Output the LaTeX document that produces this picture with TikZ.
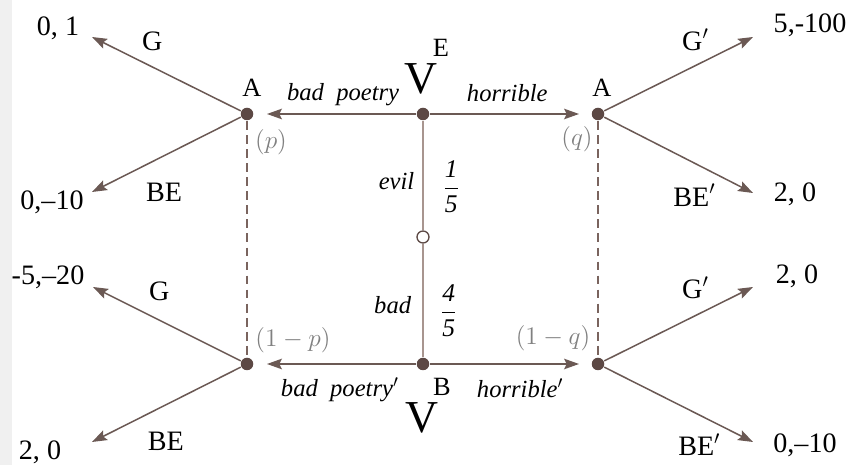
\documentclass[tikz,border=0pt]{standalone}
\usepackage{amsmath}
\usepackage{fontspec}
\setmainfont{Liberation Serif}
\usetikzlibrary{arrows.meta}

\definecolor{branch}{HTML}{6B5954}
\definecolor{dotfill}{HTML}{5C4844}
\definecolor{chanceline}{HTML}{A8958F}
\definecolor{infoset}{HTML}{7A645E}
\definecolor{strip}{HTML}{F0F0F0}

\begin{document}
\begin{tikzpicture}[>={Stealth[length=8.5pt,width=6pt,inset=1.5pt]}, line width=0.85pt,
    dot/.style={circle, fill=dotfill, inner sep=0pt, minimum size=0.25cm},
    opendot/.style={circle, draw=dotfill, fill=white, line width=0.75pt, inner sep=0pt, minimum size=0.24cm},
    pay/.style={font=\fontsize{16}{16}\selectfont},
    act/.style={font=\fontsize{16}{16}\selectfont},
    player/.style={font=\fontsize{15}{15}\selectfont},
    move/.style={font=\fontsize{14}{14}\selectfont\itshape},
    prob/.style={font=\fontsize{14.5}{14.5}\selectfont},
    belief/.style={text=gray, font=\fontsize{15.5}{15.5}\selectfont},
    big/.style={font=\fontsize{26}{26}\selectfont}]

    % background and margins
    \fill[white] (0, 0) rectangle (17, 9.3);
    \fill[strip] (0, 0) rectangle (0.24, 9.3);
    \useasboundingbox (0, 0) rectangle (17, 9.3);

    % decision nodes
    \node[dot] (e) at (8.46, 7.02) {};
    \node[dot] (b) at (8.46, 2.02) {};
    \node[opendot] (c) at (8.46, 4.56) {};
    \node[dot] (a1) at (4.94, 7.02) {};
    \node[dot] (a2) at (4.94, 2.02) {};
    \node[dot] (a3) at (11.96, 7.02) {};
    \node[dot] (a4) at (11.96, 2.02) {};

    % free ends of the branches
    \coordinate (t1) at (1.84, 8.56);
    \coordinate (t2) at (1.84, 5.46);
    \coordinate (t3) at (1.86, 3.56);
    \coordinate (t4) at (1.84, 0.46);
    \coordinate (t5) at (15.06, 8.56);
    \coordinate (t6) at (15.06, 5.44);
    \coordinate (t7) at (15.06, 3.56);
    \coordinate (t8) at (15.06, 0.46);

    % nature
    \draw[chanceline] (e) -- node[pos=0.55, left=1.2pt, move, text=black] (evil) {evil}
        node[pos=0.6, right=7.5pt, prob, text=black] (p15) {$\dfrac{\textit{1}}{\textit{5}}$} (c);
    \draw[chanceline] (c) -- node[pos=0.54, left=3pt, move, text=black] (bad) {bad}
        node[pos=0.59, right=6pt, prob, text=black] (p45) {$\dfrac{\textit{4}}{\textit{5}}$} (b);

    % sender
    \draw[->, branch, shorten >=0.26cm] (e) -- node[pos=0.45, above=1pt, move, text=black] (bp) {bad\enspace poetry} (a1);
    \draw[->, branch, shorten >=0.24cm] (e) -- node[pos=0.48, above=3pt, move, text=black] (hr) {horrible} (a3);
    \draw[->, branch, shorten >=0.26cm] (b) -- node[pos=0.47, below=4pt, move, text=black] (bp2) {bad\enspace poetry$'$} (a2);
    \draw[->, branch, shorten >=0.24cm] (b) -- node[pos=0.56, below=4.8pt, move, text=black] (hr2) {horrible$'$} (a4);

    % receiver
    \draw[->, branch] (a1) -- node[pos=0.594, above=5.5pt, act, text=black] (g1) {G} (t1);
    \draw[->, branch] (a1) -- node[pos=0.516, below=12pt, act, text=black] (be1) {BE} (t2);
    \draw[->, branch] (a2) -- node[pos=0.552, above=7.4pt, act, text=black] (g2) {G} (t3);
    \draw[->, branch] (a2) -- node[pos=0.503, below=12pt, act, text=black] (be2) {BE} (t4);
    \draw[->, branch] (a3) -- node[pos=0.613, above=4.7pt, act, text=black] (g3) {G$'$} (t5);
    \draw[->, branch] (a3) -- node[pos=0.606, below=8.3pt, act, text=black] (be3) {BE$'$} (t6);
    \draw[->, branch] (a4) -- node[pos=0.613, above=5.8pt, act, text=black] (g4) {G$'$} (t7);
    \draw[->, branch] (a4) -- node[pos=0.639, below=7.2pt, act, text=black] (be4) {BE$'$} (t8);

    % information sets
    \draw[infoset, dashed, line width=0.8pt, dash pattern=on 5pt off 3pt] (a1) -- (a2);
    \draw[infoset, dashed, line width=0.8pt, dash pattern=on 5pt off 3pt] (a3) -- (a4);

    % players and types
    \node[big] (ve) at (8.42, 7.72) {V};
    \node[player] (te) at (8.82, 8.34) {E};
    \node[player] (tb) at (8.84, 1.56) {B};
    \node[big] (vb) at (8.44, 0.94) {V};
    \node[player] (r1) at (5.04, 7.54) {A};
    \node[player] (r2) at (12.04, 7.54) {A};

    % beliefs
    \node[belief] (bl1) at (5.42, 6.46) {$(p)$};
    \node[belief] (bl2) at (11.54, 6.52) {$(q)$};
    \node[belief] (bl3) at (5.86, 2.5) {$(1-p)$};
    \node[belief] (bl4) at (11.06, 2.54) {$(1-q)$};

    % payoffs
    \node[pay] (u1) at (1.16, 8.73) {0, 1};
    \node[pay] (u2) at (1.04, 5.26) {0,–10};
    \node[pay] (u3) at (0.96, 3.76) {-5,–20};
    \node[pay] (u4) at (0.8, 0.26) {2, 0};
    \node[pay] (u5) at (16.2, 8.8) {5,-100};
    \node[pay] (u6) at (15.9, 5.42) {2, 0};
    \node[pay] (u7) at (15.94, 3.78) {2, 0};
    \node[pay] (u8) at (16.1, 0.4) {0,–10};
\end{tikzpicture}
\end{document}
